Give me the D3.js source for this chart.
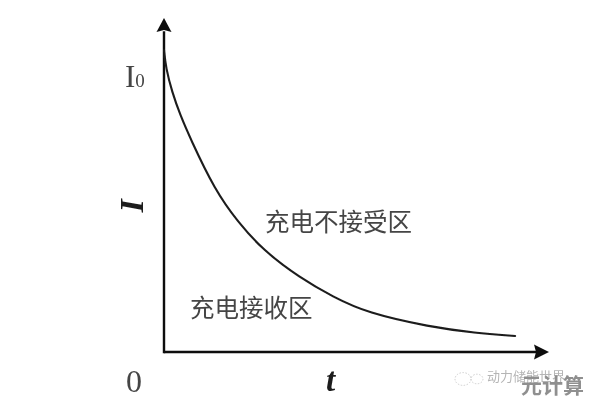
<!DOCTYPE html>
<html><head><meta charset="utf-8">
<script src="https://cdn.jsdelivr.net/npm/d3@7"></script>
<style>html,body{margin:0;background:#fff}svg{display:block}</style></head>
<body><div id="c"></div>
<script>
const timeValues=[0,0.5,2.1,4.2,6.8,13.2,19.2,25.7,35.3,43.9,52.7,69.1,80.8,91.2];
const currentValues=[90.4,85.0,77.8,71.0,64.0,48.5,38.9,30.5,22.2,16.5,11.7,7.5,5.7,4.8];
const originLabel="0", xAxisLabel="t", yAxisLabel="I", peakLabel="I", peakSub="0";
const regionUpper="充电不接受区", regionLower="充电接收区";
const markWatermark="元计算", faintWatermark="动力储能世界";

const W=589,H=404;
const x=d3.scaleLinear().domain([0,100]).range([164,549]);
const y=d3.scaleLinear().domain([0,100]).range([352,18]);
const svg=d3.select("#c").append("svg").attr("width",W).attr("height",H);
const defs=svg.append("defs");
const blur=defs.append("filter").attr("id","soft");
blur.append("feGaussianBlur").attr("stdDeviation",0.45);
const g=svg.append("g").attr("filter","url(#soft)");

// axes
const axisColor="#111";
g.append("line").attr("x1",x(0)).attr("x2",x(97)).attr("y1",y(0)).attr("y2",y(0)).attr("stroke",axisColor).attr("stroke-width",2.6);
g.append("line").attr("x1",x(0)).attr("x2",x(0)).attr("y1",y(0)+1.3).attr("y2",y(96)).attr("stroke",axisColor).attr("stroke-width",2.4);
const tri=d3.path();
tri.moveTo(x(100),y(0));tri.lineTo(x(100)-15,y(0)-7.5);tri.lineTo(x(100)-13,y(0));tri.lineTo(x(100)-15,y(0)+7.5);tri.closePath();
g.append("path").attr("d",tri.toString()).attr("fill",axisColor);
const tri2=d3.path();
tri2.moveTo(x(0),y(100));tri2.lineTo(x(0)-7.5,y(100)+14);tri2.lineTo(x(0),y(100)+12);tri2.lineTo(x(0)+7.5,y(100)+14);tri2.closePath();
g.append("path").attr("d",tri2.toString()).attr("fill",axisColor);

// curve
const pts=timeValues.map((t,i)=>[t,currentValues[i]]);
g.append("path").datum(pts)
 .attr("d",d3.line().x(d=>x(d[0])).y(d=>y(d[1])).curve(d3.curveBasis))
 .attr("fill","none").attr("stroke","#1c1c1c").attr("stroke-width",2.1).attr("stroke-linecap","round");

const serif="'Liberation Serif',serif", cjk="'Noto Sans CJK SC',sans-serif";
g.append("text").attr("x",125).attr("y",87).attr("font-family",serif).attr("font-size",31).attr("fill","#444").text(peakLabel)
  .append("tspan").attr("font-size",19).text(peakSub);
g.append("text").attr("x",126).attr("y",392).attr("font-family",serif).attr("font-size",32).attr("fill","#444").text(originLabel);
g.append("text").attr("x",326).attr("y",391).attr("font-family",serif).attr("font-size",33).attr("font-weight","bold").attr("font-style","italic").attr("fill","#1a1a1a").text(xAxisLabel);
g.append("text").attr("transform","translate(143,206) rotate(-90)").attr("text-anchor","middle").attr("font-family",serif).attr("font-size",34).attr("font-weight","bold").attr("font-style","italic").attr("fill","#1a1a1a").text(yAxisLabel);
g.append("text").attr("x",265).attr("y",231).attr("font-family",cjk).attr("font-size",24.5).attr("font-weight",400).attr("fill","#444").text(regionUpper);
g.append("text").attr("x",190).attr("y",317).attr("font-family",cjk).attr("font-size",24.5).attr("font-weight",400).attr("fill","#444").text(regionLower);

// watermark
g.append("text").attr("x",487).attr("y",381).attr("font-family",cjk).attr("font-size",13).attr("fill","#b5b5b5").text(faintWatermark);
[[468,379,8],[482,379,6]].forEach(c=>g.append("ellipse").attr("cx",c[0]-5).attr("cy",c[1]).attr("rx",c[2]).attr("ry",c[2]*0.8).attr("fill","none").attr("stroke","#ccc").attr("stroke-dasharray","1.5 1.5"));
g.append("text").attr("x",521).attr("y",393).attr("font-family",cjk).attr("font-size",21).attr("font-weight",700).attr("fill","#8f8f8f").text(markWatermark);
</script></body></html>
